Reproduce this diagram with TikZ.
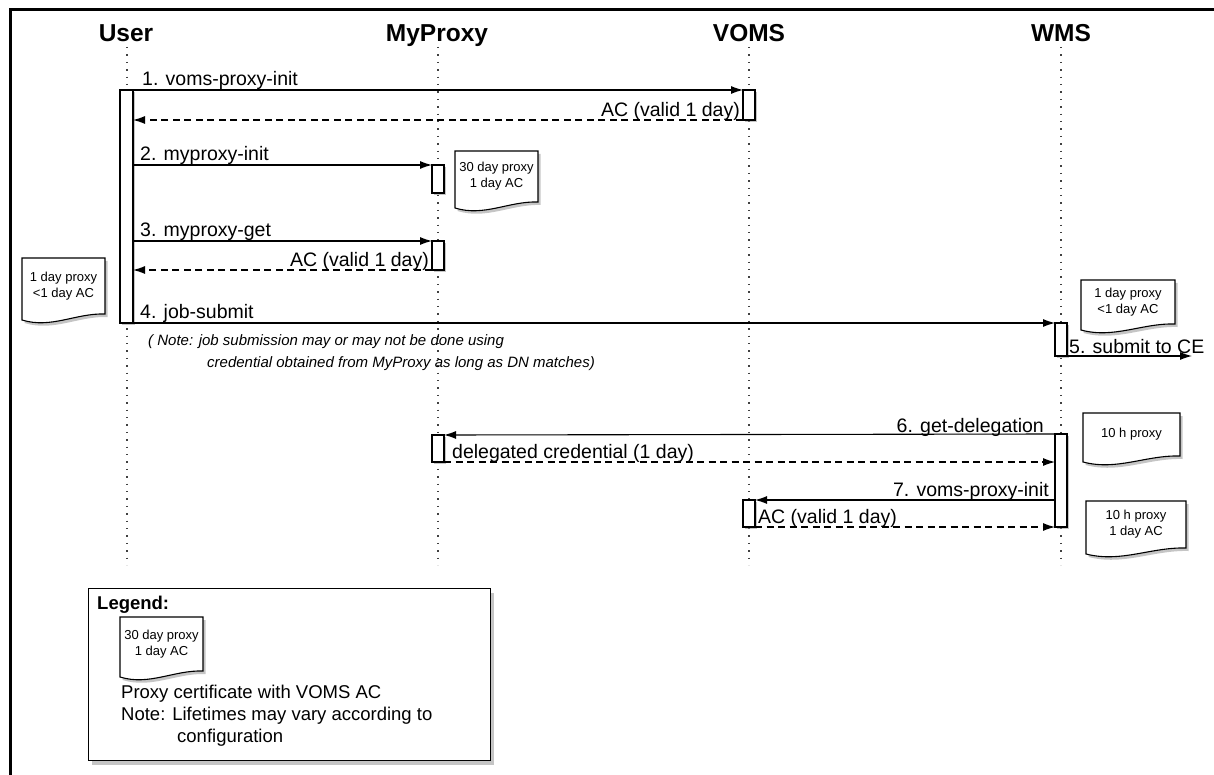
\documentclass[tikz,border=0pt]{standalone}
\usepackage{fontspec}
\setmainfont{Liberation Sans}
\usetikzlibrary{arrows.meta,shadows}
\newcommand\docnote[6]{%
  \draw[notebox] (#2,#3) -- (#4,#3) -- (#4,{#5-6})
    .. controls ({#4-0.35*(#4-#2)},{#5-7}) and ({#2+0.35*(#4-#2)},{#5+9}) .. (#2,#5) -- cycle;
  \node[notetext] (#1) at ({(#2+#4)/2},{(#3+#5)/2-3}) {#6};
}
\begin{document}
\begin{tikzpicture}[x=1pt,y=-1pt,
  lifeline/.style={line width=1.4pt, dash pattern=on 1.4pt off 6pt, black!75},
  bar/.style={draw, fill=white, line width=1.1pt, inner sep=0pt, outer sep=0pt,
    minimum width=12pt, anchor=north,
    drop shadow={shadow xshift=2pt, shadow yshift=-2pt, fill=black!45, opacity=0.5}},
  msg/.style={-{Latex[length=12pt,width=8pt]}, line width=1.1pt},
  ret/.style={msg, dash pattern=on 7pt off 4.5pt},
  lbl/.style={font=\fontsize{19.5}{22}\selectfont, inner sep=0pt},
  leglbl/.style={font=\fontsize{18.5}{22}\selectfont, inner sep=0pt, anchor=base west},
  ttl/.style={font=\fontsize{24.5}{28}\selectfont\bfseries, inner sep=0pt, anchor=base},
  notebox/.style={draw, fill=white, line width=1.1pt,
    drop shadow={shadow xshift=2.5pt, shadow yshift=-3pt, fill=black!45, opacity=0.5}},
  notetext/.style={font=\fontsize{13}{16}\selectfont, align=center, inner sep=0pt},
  ital/.style={font=\fontsize{15}{18}\selectfont\itshape, inner sep=0pt, anchor=base west},
  legbox/.style={draw, fill=white, line width=1.3pt, inner sep=0pt, anchor=north west,
    drop shadow={shadow xshift=3pt, shadow yshift=-4pt, fill=black!45, opacity=0.5}}]

\useasboundingbox (0,0) rectangle (1214,775);
\draw[line width=3pt] (10,775) -- (10,10) -- (1214,10);

% titles
\node[ttl] (tU) at (126,42) {User};
\node[ttl] (tM) at (437,42) {MyProxy};
\node[ttl] (tV) at (749,42) {VOMS};
\node[ttl] (tW) at (1061,42) {WMS};

% lifelines
\coordinate (eU) at (127,565);
\coordinate (eM) at (438,565);
\coordinate (eV) at (749,565);
\coordinate (eW) at (1061,565);
\draw[lifeline] (127,47) -- (eU);
\draw[lifeline] (438,47) -- (eM);
\draw[lifeline] (749,47) -- (eV);
\draw[lifeline] (1061,47) -- (eW);

% activation bars
\node[bar, minimum width=13pt, minimum height=233pt] (ub) at (126.5,90) {};
\node[bar, minimum height=30pt] (vb1) at (749,90) {};
\node[bar, minimum height=28pt] (mb1) at (438,165) {};
\node[bar, minimum height=29pt] (mb2) at (438,241) {};
\node[bar, minimum height=33pt] (wb1) at (1061,323) {};
\node[bar, minimum height=27pt] (mb3) at (438,435) {};
\node[bar, minimum height=93pt] (wb2) at (1061,434) {};
\node[bar, minimum height=27pt] (vb2) at (749,500) {};

% notes
\docnote{n30}{455}{151}{538}{208}{30 day proxy\\1 day AC}
\docnote{nL}{22}{258}{105}{320}{1 day proxy\\<1 day AC}
\docnote{nR}{1081}{280}{1175}{330}{1 day proxy\\<1 day AC}
\docnote{n10}{1083}{413}{1180}{462}{10 h proxy}
\docnote{n10b}{1086}{501}{1186}{554}{10 h proxy\\1 day AC}

% messages
\coordinate (ce) at (1192,356);
\draw[msg] (ub.north east) -- (vb1.north west);
\draw[ret] (vb1.south west) -- (ub.east |- vb1.south west);
\draw[msg] (ub.east |- mb1.north west) -- (mb1.north west);
\draw[msg] (ub.east |- mb2.north west) -- (mb2.north west);
\draw[ret] (mb2.south west) -- (ub.east |- mb2.south west);
\draw[msg] (ub.south east) -- (wb1.north west);
\draw[msg] (wb1.south east) -- (ce);
\draw[msg] (wb2.north west) -- (mb3.north east);
\draw[ret] (mb3.south east) -- (wb2.west |- mb3.south east);
\draw[msg] (wb2.west |- vb2.north east) -- (vb2.north east);
\draw[ret] (vb2.south east) -- (wb2.west |- vb2.south east);

% labels
\node[lbl, anchor=base west] (l1) at (142,86) {1. voms-proxy-init};
\node[lbl, anchor=base east] (l1r) at (740,117) {AC (valid 1 day)};
\node[lbl, anchor=base west] (l2) at (140,161) {2. myproxy-init};
\node[lbl, anchor=base west] (l3) at (140,237) {3. myproxy-get};
\node[lbl, anchor=base east] (l3r) at (429,267) {AC (valid 1 day)};
\node[lbl, anchor=base west] (l4) at (140,319) {4. job-submit};
\node[lbl, anchor=base west] (l5) at (1069,353) {5. submit to CE};
\node[lbl, anchor=base east] (l6) at (1044,432) {6. get-delegation};
\node[lbl, anchor=base west] (l6r) at (452,458) {delegated credential (1 day)};
\node[lbl, anchor=base east] (l7) at (1049,496) {7. voms-proxy-init};
\node[lbl, anchor=base west] (l7r) at (758,523) {AC (valid 1 day)};

\node[ital] (nt1) at (148,345) {( Note: job submission may or may not be done using};
\node[ital] (nt2) at (207,367) {credential obtained from MyProxy as long as DN matches)};

% legend
\node[legbox, minimum width=402pt, minimum height=172pt] (leg) at (88,588) {};
\node[leglbl, font=\fontsize{18.5}{22}\selectfont\bfseries] (legt) at (97,609) {Legend:};
\docnote{nLeg}{120}{617}{203}{677}{30 day proxy\\1 day AC}
\node[leglbl] (lg1) at (121,698) {Proxy certificate with VOMS AC};
\node[leglbl] (lg2) at (121,720) {Note: Lifetimes may vary according to};
\node[leglbl] (lg3) at (177,742) {configuration};
\end{tikzpicture}
\end{document}
